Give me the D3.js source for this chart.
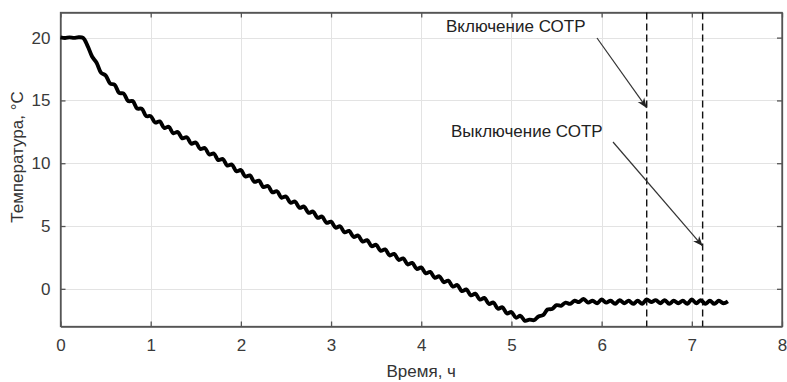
<!DOCTYPE html>
<html>
<head>
<meta charset="utf-8">
<script src="https://cdn.jsdelivr.net/npm/d3@7"></script>
<style>
  body { margin: 0; background: #fff; }
  svg text { font-family: "Liberation Sans", Arial, sans-serif; fill: #333; }
</style>
</head>
<body>
<svg id="chart" width="787" height="382"></svg>
<script>
// sampled every 0.05 h, starting at t = 0
var sampleStep = 0.05;
var temps = [
  20.02, 19.97, 20.02, 19.98, 20.03, 19.98, 19.35, 18.5, 18.0, 17.2,
  17.0, 16.35, 16.25, 15.6, 15.55, 14.95, 14.95, 14.35, 14.35, 13.75,
  13.75, 13.24, 13.33, 12.81, 12.90, 12.39, 12.48, 11.98, 12.07, 11.56,
  11.65, 11.13, 11.21, 10.69, 10.77, 10.25, 10.33, 9.81, 9.89, 9.37,
  9.45, 8.94, 9.03, 8.52, 8.61, 8.10, 8.19, 7.68, 7.77, 7.26,
  7.35, 6.85, 6.95, 6.45, 6.55, 6.05, 6.15, 5.65, 5.75, 5.25,
  5.35, 4.87, 4.98, 4.50, 4.61, 4.13, 4.24, 3.76, 3.87, 3.39,
  3.50, 3.02, 3.14, 2.66, 2.78, 2.30, 2.42, 1.94, 2.06, 1.58,
  1.70, 1.23, 1.35, 0.88, 1.00, 0.53, 0.65, 0.18, 0.30, -0.18,
  -0.05, -0.52, -0.39, -0.86, -0.73, -1.20, -1.09, -1.58, -1.47, -1.96,
  -1.85, -2.30, -2.15, -2.55, -2.45, -2.5, -2.2, -2.1, -1.65, -1.6,
  -1.3, -1.35, -1.1, -1.2, -0.95, -1.05, -0.8, -1.1, -0.95, -1.15,
  -0.85, -1.1, -0.95, -1.2, -0.9, -1.15, -0.95, -1.2, -0.95, -1.2,
  -0.85, -1.05, -0.9, -1.15, -0.9, -1.2, -0.95, -1.15, -0.95, -1.2,
  -0.85, -1.15, -0.9, -1.2, -0.95, -1.2, -0.95, -1.15, -1.0
];
var xTicks = [0, 1, 2, 3, 4, 5, 6, 7, 8];
var yTicks = [0, 5, 10, 15, 20];
var switchTimes = [6.5, 7.12];
var noteLabels = ['Включение СОТР', 'Выключение СОТР'];

var plotLeft = 60.5, plotRight = 782, plotTop = 12.5, plotBottom = 326.5;
var fontSize = '17px';

var svg = d3.select('#chart');

var x = d3.scaleLinear().domain([0, 8]).range([plotLeft, plotRight]);
var y = d3.scaleLinear().domain([-3, 22]).range([plotBottom, plotTop]);

// grid
svg.append('g').selectAll('line').data(xTicks.slice(1, -1)).enter().append('line')
    .attr('x1', function(d) { return Math.round(x(d)) + 0.5; })
    .attr('x2', function(d) { return Math.round(x(d)) + 0.5; })
    .attr('y1', plotTop).attr('y2', plotBottom)
    .style('stroke', '#e3e3e3');
svg.append('g').selectAll('line').data(yTicks).enter().append('line')
    .attr('y1', function(d) { return Math.round(y(d)) + 0.5; })
    .attr('y2', function(d) { return Math.round(y(d)) + 0.5; })
    .attr('x1', plotLeft).attr('x2', plotRight)
    .style('stroke', '#e3e3e3');

// axes, ticks inside, on all four sides
var bottomAxis = d3.axisBottom(x).tickValues(xTicks).tickSizeInner(-5).tickSizeOuter(0).tickPadding(12);
var topAxis = d3.axisTop(x).tickValues(xTicks).tickSizeInner(-5).tickSizeOuter(0).tickFormat('');
var leftAxis = d3.axisLeft(y).tickValues(yTicks).tickSizeInner(-5).tickSizeOuter(0).tickPadding(10);
var rightAxis = d3.axisRight(y).tickValues(yTicks).tickSizeInner(-5).tickSizeOuter(0).tickFormat('');

svg.append('g').attr('class', 'ax').attr('transform', 'translate(0,' + plotBottom + ')').call(bottomAxis);
svg.append('g').attr('class', 'ax').attr('transform', 'translate(0,' + plotTop + ')').call(topAxis);
svg.append('g').attr('class', 'ax').attr('transform', 'translate(' + plotLeft + ',0)').call(leftAxis);
svg.append('g').attr('class', 'ax').attr('transform', 'translate(' + plotRight + ',0)').call(rightAxis);

svg.selectAll('.ax .domain').style('stroke', '#555').style('stroke-width', 1.3);
svg.selectAll('.ax .tick line').style('stroke', '#555').style('stroke-width', 1.3);
svg.selectAll('.ax .tick text').style('font-size', fontSize).style('fill', '#3a3a3a')
    .style('font-family', '"Liberation Sans", Arial, sans-serif');

// box frame
svg.append('rect')
    .attr('x', plotLeft).attr('y', plotTop)
    .attr('width', plotRight - plotLeft).attr('height', plotBottom - plotTop)
    .style('fill', 'none').style('stroke', '#555').style('stroke-width', 1.3);

// dashed switch lines
svg.append('g').selectAll('line').data(switchTimes).enter().append('line')
    .attr('x1', function(d) { return x(d); })
    .attr('x2', function(d) { return x(d); })
    .attr('y1', plotTop).attr('y2', plotBottom)
    .style('stroke', '#111').style('stroke-width', 1.4)
    .style('stroke-dasharray', '7,4');

// temperature curve
var line = d3.line()
    .x(function(d, i) { return x(i * sampleStep); })
    .y(function(d) { return y(d); })
    .curve(d3.curveCatmullRom);

svg.append('path')
    .datum(temps)
    .attr('d', line)
    .style('fill', 'none')
    .style('stroke', '#000')
    .style('stroke-width', 3.9)
    .style('stroke-linejoin', 'round');

// arrow head
svg.append('defs').append('marker')
    .attr('id', 'arrow')
    .attr('viewBox', '0 0 10 10')
    .attr('refX', 10).attr('refY', 5)
    .attr('markerWidth', 10).attr('markerHeight', 10)
    .attr('markerUnits', 'userSpaceOnUse')
    .attr('orient', 'auto')
    .append('path')
    .attr('d', 'M0,1 L10,5 L0,9 L3,5 Z')
    .style('fill', '#222');

// annotations (arrow tips land on the switch lines)
var notes = [
    {label: noteLabels[0], tx: 446, ty: 32, x1: 597, y1: 38, t: switchTimes[0], v: 14.4},
    {label: noteLabels[1], tx: 451, ty: 137, x1: 613, y1: 142, t: switchTimes[1], v: 3.4}
];

svg.append('g').selectAll('text').data(notes).enter().append('text')
    .attr('x', function(d) { return d.tx; })
    .attr('y', function(d) { return d.ty; })
    .style('font-size', fontSize)
    .style('fill', '#222')
    .text(function(d) { return d.label; });

svg.append('g').selectAll('line').data(notes).enter().append('line')
    .attr('x1', function(d) { return d.x1; })
    .attr('y1', function(d) { return d.y1; })
    .attr('x2', function(d) { return x(d.t); })
    .attr('y2', function(d) { return y(d.v); })
    .style('stroke', '#333').style('stroke-width', 1.2)
    .attr('marker-end', 'url(#arrow)');

// axis titles
svg.append('text')
    .attr('x', (plotLeft + plotRight) / 2).attr('y', 377)
    .attr('text-anchor', 'middle')
    .style('font-size', fontSize)
    .text('Время, ч');

svg.append('text')
    .attr('transform', 'translate(23,157) rotate(-90)')
    .attr('text-anchor', 'middle')
    .style('font-size', fontSize)
    .text('Температура, °С');
</script>
</body>
</html>
